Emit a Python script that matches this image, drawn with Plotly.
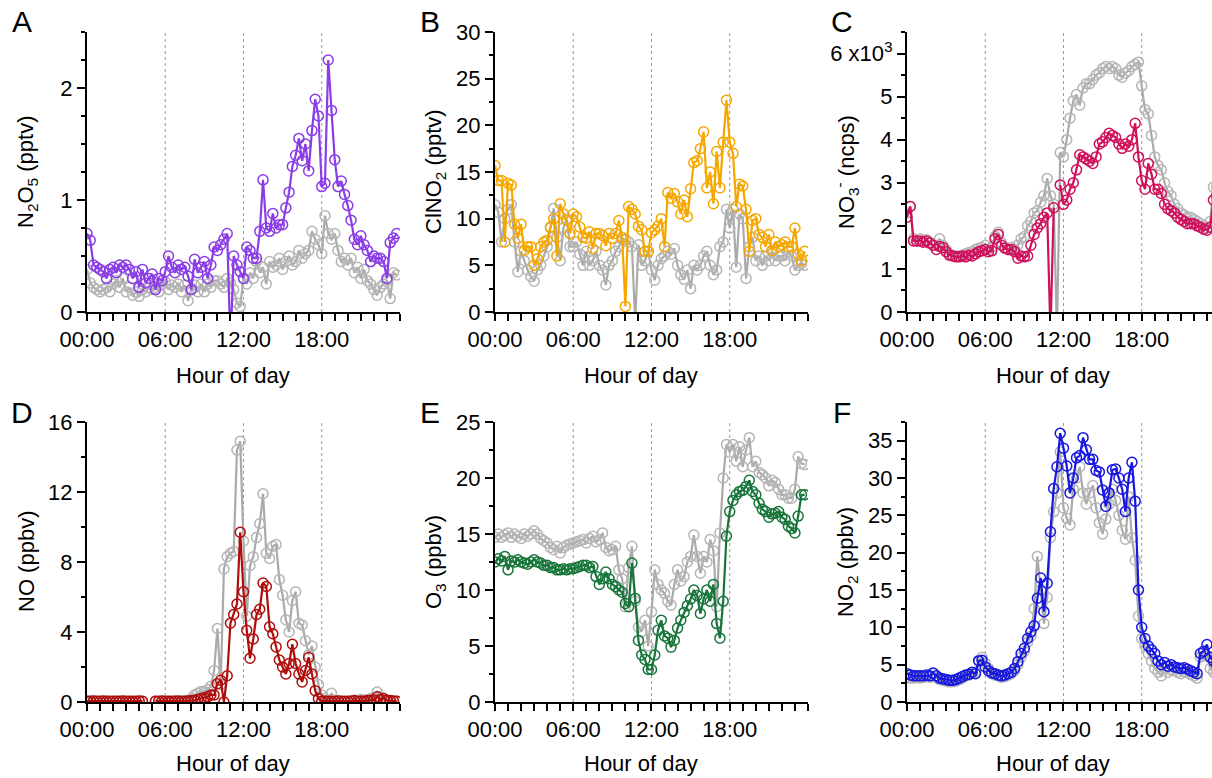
import plotly.graph_objects as go

# ---------------- data (15-min resolution, hour of day) ----------------
STEP_H = 0.25
N = 96
hours = [i * STEP_H for i in range(N)]

x_tick_vals = [0, 6, 12, 18]
x_tick_text = ["00:00", "06:00", "12:00", "18:00"]

# A: N2O5 (pptv)
n2o5_grey = [0.38, 0.26, 0.22, 0.20, 0.18, 0.20, 0.22, 0.18, 0.25, 0.28, 0.22, 0.30,
             0.18, 0.22, 0.15, 0.18, 0.14, 0.20, 0.18, 0.22, 0.20, 0.25, 0.18, 0.24,
             0.27, 0.20, 0.24, 0.22, 0.25, 0.18, 0.24, 0.10, 0.20, 0.24, 0.18, 0.25,
             0.18, 0.25, 0.22, 0.28, 0.28, 0.25, 0.22, 0.30, 0.26, 0.20, 0.08, 0.05,
             0.30, 0.25, 0.35, 0.30, 0.45, 0.35, 0.40, 0.25, 0.45, 0.40, 0.42, 0.48,
             0.38, 0.45, 0.50, 0.42, 0.45, 0.55, 0.48, 0.52, 0.55, 0.72, 0.65, 0.60,
             0.52, 0.86, 0.70, 0.65, 0.70, 0.55, 0.45, 0.48, 0.42, 0.48, 0.35, 0.40,
             0.30, 0.38, 0.28, 0.25, 0.20, 0.15, 0.22, 0.25, 0.28, 0.12, 0.35, 0.33]
n2o5_col = [0.70, 0.64, 0.42, 0.40, 0.38, 0.36, 0.30, 0.38, 0.40, 0.35, 0.42, 0.40,
            0.42, 0.38, 0.30, 0.36, 0.22, 0.38, 0.26, 0.30, 0.34, 0.20, 0.30, 0.28,
            0.36, 0.50, 0.40, 0.35, 0.42, 0.38, 0.40, 0.32, 0.20, 0.47, 0.35, 0.40,
            0.45, 0.30, 0.42, 0.58, 0.55, 0.60, 0.65, 0.70, -0.30, 0.50, 0.42, 0.36,
            0.30, 0.58, 0.55, 0.48, 0.48, 0.72, 1.18, 0.75, 0.72, 0.88, 0.75, 0.78,
            0.78, 0.93, 1.07, 1.30, 1.40, 1.55, 1.35, 1.50, 1.26, 1.62, 1.90, 1.75,
            1.12, 1.15, 2.25, 1.80, 1.36, 1.12, 1.17, 1.05, 0.95, 0.82, 0.65, 0.60,
            0.68, 0.60, 0.55, 0.45, 0.50, 0.48, 0.48, 0.45, 0.30, 0.62, 0.66, 0.70]

# B: ClNO2 (pptv)
clno2_grey = [11.5, 10.7, 7.5, 10.0, 11.0, 11.5, 7.5, 4.3, 6.5, 5.5, 4.5, 3.8,
              3.3, 4.5, 5.0, 6.0, 7.0, 9.0, 11.1, 8.0, 5.5, 9.0, 10.0, 7.0,
              7.0, 7.5, 6.2, 5.0, 6.5, 5.0, 5.5, 6.5, 5.0, 4.5, 2.9, 5.0,
              5.5, 6.5, 7.0, 7.8, 7.8, 7.5, 7.0, -1.0, 7.2, 5.0, 5.5, 6.5,
              4.5, 3.4, 5.0, 5.7, 6.0, 6.5, 6.2, 6.8, 5.0, 4.0, 3.5, 4.5,
              2.5, 5.0, 4.5, 5.0, 6.0, 6.5, 5.0, 4.0, 4.5, 7.0, 7.5, 11.0,
              9.0, 11.0, 4.8, 10.5, 10.0, 3.6, 7.0, 8.0, 5.5, 6.0, 5.0, 6.0,
              5.5, 6.5, 5.5, 6.0, 6.0, 5.5, 6.5, 6.0, 4.5, 5.0, 5.2, 5.0]
clno2_col = [15.7, 14.1, 14.1, 7.5, 13.8, 13.6, 9.4, 7.9, 9.4, 6.6, 7.0, 7.0,
             5.0, 5.7, 7.0, 7.5, 7.7, 9.1, 10.0, 6.0, 11.6, 10.5, 9.8, 8.4,
             10.5, 10.2, 9.1, 8.0, 7.9, 8.6, 6.8, 8.4, 8.4, 8.2, 7.1, 8.4,
             7.9, 8.4, 9.8, 8.0, 0.6, 11.3, 11.0, 10.5, 9.2, 8.8, 6.5, 6.5,
             8.5, 8.8, 9.2, 10.0, 7.0, 12.8, 12.2, 12.7, 11.8, 10.5, 12.0, 10.2,
             13.2, 16.0, 16.2, 17.5, 19.3, 13.3, 15.0, 11.6, 17.2, 13.3, 18.2, 22.7,
             18.2, 17.0, 11.3, 13.7, 13.5, 11.0, 6.5, 9.8, 10.0, 8.3, 8.0, 7.0,
             8.3, 6.6, 7.5, 7.0, 7.2, 7.5, 7.0, 7.0, 9.0, 6.2, 5.5, 6.5]

# C: NO3- (ncps, x10^3)
no3_grey = [2.30, 2.45, 1.70, 1.65, 1.70, 1.65, 1.68, 1.62, 1.55, 1.55, 1.70, 1.55,
            1.45, 1.35, 1.32, 1.30, 1.30, 1.32, 1.35, 1.38, 1.40, 1.45, 1.48, 1.50,
            1.55, 1.45, 1.50, 1.75, 1.85, 1.60, 1.50, 1.45, 1.50, 1.45, 1.55, 1.70,
            1.75, 2.00, 2.10, 2.30, 2.35, 2.55, 2.70, 3.10, 2.70, 2.50, -0.50, 3.70,
            3.60, 4.00, 4.50, 4.90, 5.05, 4.80, 5.20, 5.30, 5.30, 5.40, 5.50, 5.55,
            5.65, 5.70, 5.65, 5.70, 5.65, 5.50, 5.45, 5.55, 5.60, 5.70, 5.75, 5.80,
            5.25, 4.70, 4.60, 4.10, 3.60, 3.40, 3.30, 3.00, 2.80, 2.70, 2.50, 2.40,
            2.30, 2.25, 2.20, 2.20, 2.15, 2.10, 2.05, 2.00, 1.95, 2.10, 2.90, 2.90]
no3_col = [2.20, 2.45, 1.65, 1.65, 1.65, 1.62, 1.65, 1.60, 1.55, 1.45, 1.52, 1.50,
           1.40, 1.32, 1.30, 1.28, 1.28, 1.30, 1.28, 1.32, 1.30, 1.35, 1.40, 1.42,
           1.45, 1.40, 1.42, 1.70, 1.80, 1.55, 1.48, 1.45, 1.45, 1.40, 1.25, 1.30,
           1.28, 1.30, 1.55, 1.80, 1.95, 2.05, 2.20, 2.30, -0.50, 2.42, None, 2.95,
           2.50, 2.60, 2.85, 3.00, 3.30, 3.65, 3.60, 3.55, 3.50, 3.45, 3.60, 3.90,
           3.95, 4.05, 4.15, 4.10, 4.05, 3.90, 3.80, 3.90, 3.85, 4.00, 4.38, 3.60,
           3.05, 2.85, 3.45, 3.20, 2.85, 2.85, 2.75, 2.50, 2.40, 2.35, 2.30, 2.20,
           2.15, 2.10, 2.05, 2.05, 2.05, 2.00, 1.97, 1.92, 1.90, 1.97, 2.60, 2.70]

# D: NO (ppbv)
no_grey = [0.06, 0.05, 0.07, 0.05, 0.06, 0.05, 0.06, 0.05, 0.05, 0.06, 0.05, 0.07,
           0.05, 0.06, 0.05, 0.05, 0.06, 0.05, None, None, None, 0.06, 0.05, 0.06,
           0.05, 0.06, 0.05, 0.07, 0.06, 0.05, 0.08, 0.10, 0.20, 0.40, 0.50, 0.60,
           0.60, 0.70, 0.90, 1.80, 4.20, 1.00, 7.60, 8.30, 8.50, 8.60, 14.4, 14.9,
           9.20, 4.90, 7.80, 8.30, 9.40, 10.2, 11.9, 8.50, 8.20, 8.90, 9.00, 7.00,
           6.10, 4.70, 4.00, 5.80, 6.30, 4.50, 4.40, 3.50, 2.70, 3.20, 2.00, 1.00,
           0.40, 0.20, 0.10, 0.50, 0.10, 0.08, 0.06, 0.05, 0.05, 0.08, 0.10, 0.05,
           0.15, 0.10, 0.12, 0.20, 0.20, 0.57, 0.30, 0.15, 0.10, 0.08, 0.06, 0.05]
no_col = [0.05, 0.04, 0.06, 0.05, 0.05, 0.06, 0.04, 0.05, 0.05, 0.04, 0.05, 0.06,
          0.05, 0.05, 0.04, 0.05, 0.06, 0.05, None, None, None, 0.05, 0.05, 0.06,
          0.05, 0.04, 0.05, 0.05, 0.06, 0.05, 0.05, 0.06, 0.08, 0.10, 0.15, 0.20,
          0.25, 0.30, 0.40, 0.40, 1.05, 1.24, 0.00, 1.50, 4.50, 5.00, 5.60, 9.70,
          6.30, 4.10, 2.50, 3.60, 5.00, 5.30, 6.80, 6.60, 4.30, 3.90, 3.15, 2.40,
          2.00, 1.60, 2.20, 3.30, 2.20, 1.60, 1.15, 1.80, 2.55, 1.60, 0.65, 0.20,
          0.05, 0.06, 0.05, 0.04, 0.05, 0.06, 0.05, 0.05, 0.04, 0.05, 0.08, 0.05,
          0.06, 0.05, 0.08, 0.10, 0.12, 0.30, 0.15, 0.20, 0.10, 0.08, 0.06, 0.05]

# E: O3 (ppbv)
o3_grey = [14.7, 15.0, 14.7, 14.9, 15.1, 14.7, 15.0, 14.8, 14.6, 15.0, 14.8, 15.0,
           15.3, 15.0, 14.6, 14.4, 14.2, 13.8, 13.6, 13.9, 13.3, 13.8, 14.0, 14.1,
           14.2, 14.3, 14.4, 14.5, 14.2, 14.6, 14.8, 14.3, 14.5, 15.1, 13.8, 13.5,
           13.6, 13.9, 11.8, 11.0, 8.5, 12.0, 13.9, 9.0, 6.7, 6.3, 7.3, 5.0,
           8.05, 11.8, 10.5, 10.0, 9.7, 9.0, 8.65, 10.5, 11.8, 10.8, 11.2, 12.5,
           13.0, 14.9, 13.0, 11.5, 13.0, 12.5, 14.5, 13.5, 8.5, 15.1, 20.0, 23.0,
           22.3, 23.0, 21.5, 22.8, 21.0, 22.5, 23.6, 21.0, 21.5, 20.5, 20.3, 20.0,
           19.3, 19.8, 19.6, 19.0, 18.5, 18.5, 18.2, 18.2, 19.0, 21.9, 21.3, 21.2]
o3_col = [12.5, 12.8, 12.6, 13.0, 11.8, 12.6, 12.5, 12.7, 12.5, 12.4, 12.3, 12.5,
          12.7, 12.5, 12.4, 12.2, 12.2, 12.0, 12.0, 11.8, 11.8, 11.9, 11.8, 11.9,
          11.9, 12.0, 12.1, 12.2, 12.2, 12.0, 12.1, 11.2, 10.5, 11.0, 11.6, 11.0,
          10.5, 10.3, 10.0, 9.8, 8.8, 8.5, 12.4, 9.25, 5.5, 4.2, 3.8, 2.9,
          2.9, 4.2, 6.4, 7.3, 5.9, 5.7, 4.9, 5.5, 6.6, 7.3, 8.0, 8.6,
          9.2, 10.0, 9.5, 7.9, 9.2, 10.0, 9.0, 10.5, 7.0, 5.7, 9.0, 14.8,
          17.0, 18.0, 18.5, 18.8, 18.9, 19.25, 19.8, 18.8, 18.5, 17.75, 17.2, 17.0,
          16.5, 16.8, 16.85, 17.0, 16.5, 16.3, 15.7, 15.5, 15.1, 16.6, 18.5, 18.5]

# F: NO2 (ppbv)
no2_grey = [3.3, 3.2, 3.2, 3.3, 3.2, 3.3, 3.4, 3.3, 3.8, 3.3, 3.0, 2.9,
            2.8, 2.7, 2.7, 2.8, 3.0, 3.2, 3.5, 3.6, 3.8, 4.0, 5.6, 6.0,
            5.2, 4.5, 3.8, 3.6, 3.5, 3.3, 3.4, 3.6, 3.8, 4.2, 5.0, 6.0,
            6.8, 8.0, 8.8, 12.5, 19.5, 15.0, 10.5, 14.0, 22.0, 25.5, 28.0, 33.5,
            26.0, 24.6, 23.7, 28.5, 30.0, 31.5, 28.0, 26.5, 28.0, 29.0, 26.0, 24.0,
            22.5, 24.5, 26.5, 28.5, 27.0, 25.0, 23.0, 21.8, 27.5, 22.0, 19.0, 11.5,
            8.5, 7.5, 6.5, 5.5, 4.5, 4.0, 3.5, 4.5, 4.0, 4.3, 4.2, 4.0,
            3.8, 4.0, 4.0, 3.7, 3.5, 3.2, 6.0, 6.2, 6.2, 4.5, 4.0, 3.8]
no2_col = [3.8, 3.6, 3.5, 3.5, 3.5, 3.5, 3.6, 3.5, 3.9, 3.5, 3.2, 3.1,
           3.0, 2.9, 2.9, 3.0, 3.2, 3.4, 3.6, 3.7, 4.0, 3.8, 5.5, 5.6,
           4.7, 4.2, 3.9, 3.8, 3.6, 3.5, 3.6, 3.8, 4.0, 4.5, 5.4, 6.5,
           7.2, 8.5, 9.4, 10.2, 13.9, 16.6, 12.1, 15.9, 22.8, 28.6, 31.5, 36.0,
           34.0, 31.6, 28.0, 30.0, 32.7, 33.0, 35.4, 33.8, 32.5, 32.5, 31.0, 30.8,
           28.4, 26.2, 28.0, 31.1, 31.2, 30.0, 28.5, 25.5, 30.0, 32.1, 26.9, 15.0,
           10.0, 8.5, 7.5, 7.0, 6.5, 5.5, 5.0, 5.3, 4.8, 5.0, 4.7, 4.6,
           4.5, 4.6, 4.4, 4.2, 4.0, 3.8, 6.5, 6.8, 7.7, 6.0, 5.5, 5.0]

GREY = "#AAAAAA"
panels = [
    # letter, grey, coloured, colour, y title, y range, y tickvals, y ticktext, minor dtick
    ("A", n2o5_grey, n2o5_col, "#8A3DE6", "N<sub>2</sub>O<sub>5</sub> (pptv)",
     [0, 2.5], [0, 1, 2], ["0", "1", "2"], 0.25),
    ("B", clno2_grey, clno2_col, "#F5A700", "ClNO<sub>2</sub> (pptv)",
     [0, 30], [0, 5, 10, 15, 20, 25, 30], ["0", "5", "10", "15", "20", "25", "30"], 2.5),
    ("C", no3_grey, no3_col, "#D0105C", "NO<sub>3</sub><sup>-</sup> (ncps)",
     [0, 6.5], [0, 1, 2, 3, 4, 5, 6], ["0", "1", "2", "3", "4", "5", "6 x10<sup>3</sup>"], 0.5),
    ("D", no_grey, no_col, "#B00C0C", "NO (ppbv)",
     [0, 16], [0, 4, 8, 12, 16], ["0", "4", "8", "12", "16"], 2),
    ("E", o3_grey, o3_col, "#17753A", "O<sub>3</sub> (ppbv)",
     [0, 25], [0, 5, 10, 15, 20, 25], ["0", "5", "10", "15", "20", "25"], 2.5),
    ("F", no2_grey, no2_col, "#1717E0", "NO<sub>2</sub> (ppbv)",
     [0, 37.5], [0, 5, 10, 15, 20, 25, 30, 35], ["0", "5", "10", "15", "20", "25", "30", "35"], 2.5),
]

# ---------------- layout geometry (pixels) ----------------
W, H = 1212, 778
PX_PER_H = 13.04
col_left = [87, 495, 907]
row_top = [32, 422]
plot_h = 280
FONT = "Liberation Sans, Arial, sans-serif"
FS = 22

fig = go.Figure()
layout = dict(width=W, height=H, autosize=False,
              margin=dict(l=0, r=0, t=0, b=0, pad=0, autoexpand=False),
              paper_bgcolor="white", plot_bgcolor="white", showlegend=False,
              font=dict(family=FONT, color="black"))
annotations = []
shapes = []

for i, (letter, grey, col, color, ytitle, yr, ytv, ytt, ymin) in enumerate(panels):
    r, c = divmod(i, 3)
    left = col_left[c]
    right = min(left + 24 * PX_PER_H, W)
    xmax = (right - left) / PX_PER_H
    top = row_top[r]
    bottom = top + plot_h
    xa = "xaxis" if i == 0 else f"xaxis{i+1}"
    ya = "yaxis" if i == 0 else f"yaxis{i+1}"
    xr = "x" if i == 0 else f"x{i+1}"
    yrf = "y" if i == 0 else f"y{i+1}"
    layout[xa] = dict(domain=[left / W, right / W], anchor=yrf, range=[0, xmax], automargin=False,
                      showline=True, linecolor="black", linewidth=2, showgrid=False, zeroline=False,
                      ticks="outside", ticklen=7, tickwidth=2, tickcolor="black",
                      tickmode="array", tickvals=x_tick_vals, ticktext=x_tick_text,
                      tickfont=dict(size=FS, family=FONT, color="black"),
                      minor=dict(tickmode="array", tickvals=list(range(0, 25)), ticks="outside",
                                 ticklen=7, tickwidth=2, tickcolor="black", showgrid=False))
    layout[ya] = dict(domain=[(H - bottom) / H, (H - top) / H], anchor=xr, range=yr, automargin=False,
                      showline=True, linecolor="black", linewidth=2, showgrid=False, zeroline=False,
                      ticks="outside", ticklen=8, tickwidth=2, tickcolor="black",
                      tickmode="array", tickvals=ytv, ticktext=ytt,
                      tickfont=dict(size=FS, family=FONT, color="black"),
                      minor=dict(dtick=ymin, tick0=0, ticks="outside", ticklen=4, tickwidth=2,
                                 tickcolor="black", showgrid=False))
    for xv in [6, 12, 18]:
        shapes.append(dict(type="line", xref=xr, yref=f"{yrf} domain", x0=xv, x1=xv, y0=0, y1=1,
                           line=dict(color="#9A9A9A", width=1, dash="dot"), layer="below"))
    fig.add_trace(go.Scatter(x=hours, y=grey, xaxis=xr, yaxis=yrf, mode="lines+markers",
                             line=dict(color=GREY, width=2.2),
                             marker=dict(symbol="circle-open", size=10, color="#B5B5B5",
                                         line=dict(width=1.5))))
    fig.add_trace(go.Scatter(x=hours, y=col, xaxis=xr, yaxis=yrf, mode="lines+markers",
                             line=dict(color=color, width=2.2),
                             marker=dict(symbol="circle-open", size=10, color=color,
                                         line=dict(width=1.5))))
    # panel letter
    annotations.append(dict(text=letter, xref="paper", yref="paper",
                            x=(left - 65) / W, y=(H - (top - 10)) / H, xanchor="center", yanchor="middle",
                            showarrow=False, font=dict(size=30, family=FONT, color="black")))
    # y title
    annotations.append(dict(text=ytitle, xref="paper", yref="paper", textangle=-90,
                            x=(left - 60) / W, y=(H - (top + bottom) / 2) / H,
                            xanchor="center", yanchor="middle", showarrow=False,
                            font=dict(size=FS, family=FONT, color="black")))
    # x title (bottom row anchored to the page bottom so it stays inside)
    if r == 0:
        xt_y, xt_anchor = (H - (bottom + 63)) / H, "middle"
    else:
        xt_y, xt_anchor = 0.0, "bottom"
    annotations.append(dict(text="Hour of day", xref="paper", yref="paper",
                            x=(left + 12 * PX_PER_H - 10) / W, y=xt_y,
                            xanchor="center", yanchor=xt_anchor, showarrow=False,
                            font=dict(size=FS, family=FONT, color="black")))

layout["annotations"] = annotations
layout["shapes"] = shapes
fig.update_layout(**layout)
fig.write_html("out.html")
